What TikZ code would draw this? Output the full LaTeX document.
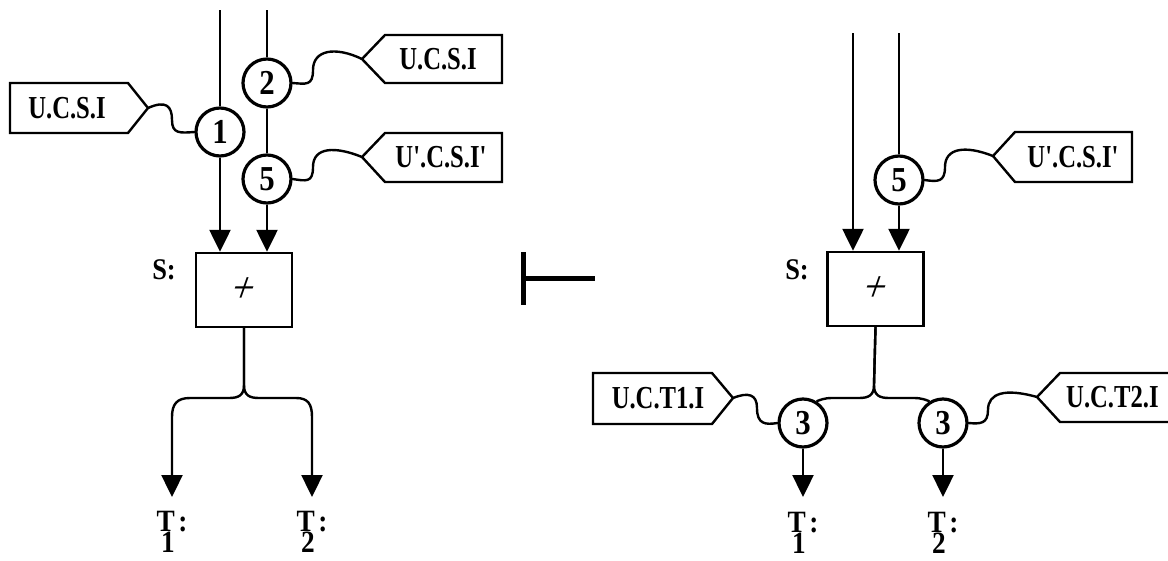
\documentclass[tikz,border=0pt]{standalone}
\usepackage{fontspec}
\setmainfont{Liberation Serif}[FakeStretch=0.88]
\newfontfamily\tagfont{Liberation Serif}[FakeStretch=0.77]
\usetikzlibrary{arrows.meta}
\begin{document}
\begin{tikzpicture}[x=1pt,y=-1pt,
  flow/.style={line width=2.4pt},
  arr/.style={flow,-{Triangle[length=22pt,width=21pt]}},
  wire/.style={line width=2.4pt,line cap=round},
  op/.style={circle,draw,line width=3.2pt,minimum size=48pt,inner sep=0pt,font=\bfseries\fontsize{35}{35}\selectfont},
  proc/.style={draw,line width=2.4pt,minimum width=96pt,minimum height=74pt,inner sep=0pt},
  plussign/.style={inner sep=0pt,xslant=0.35,font=\fontsize{44}{44}\selectfont},
  tagshape/.style={line width=2.4pt,line join=miter},
  tagtext/.style={font=\tagfont\bfseries\fontsize{32}{32}\selectfont,inner sep=0pt},
  lab/.style={font=\bfseries\fontsize{30}{30}\selectfont,inner sep=0pt},
  tlab/.style={font=\bfseries\fontsize{31}{31}\selectfont,inner sep=0pt,anchor=north},
  bar/.style={line width=5pt},
]
\useasboundingbox (0,0) rectangle (1168,560);

% ---------------- left diagram ----------------
\coordinate (a1) at (220,10);
\coordinate (a2) at (267,10);
\node[op] (c1) at (220,132) {1};
\node[op] (c2) at (267,83) {2};
\node[op] (c5) at (267,179) {5};
\node[proc] (s) at (244,290) {};
\node[plussign] (sp) at (s) {+};
\node[lab] (sl) at (164,270) {S:};

\draw[flow] (a1) -- (c1.north);
\draw[arr] (c1.south) -- (c1 |- s.north);
\draw[flow] (a2) -- (c2.north);
\draw[flow] (c2.south) -- (c5.north);
\draw[arr] (c5.south) -- (c5 |- s.north);

\coordinate (e1) at (172,497);
\coordinate (e2) at (312,497);
\draw[arr] (s.south) -- (244,385) .. controls (244,395) and (239,398) .. (229,398) -- (190,398) .. controls (177,398) and (172,404) .. (172,417) -- (e1);
\draw[arr] (s.south) -- (244,385) .. controls (244,395) and (249,398) .. (259,398) -- (296,398) .. controls (308,398) and (312,404) .. (312,417) -- (e2);
\node[tlab] (t1) at (172,511) {T\llap{\raisebox{-0.68em}{1}}\hspace{0.12em}:};
\node[tlab] (t2) at (312,511) {T\llap{\raisebox{-0.68em}{2}}\hspace{0.12em}:};

% tags, left diagram
\draw[tagshape] (10,83) -- (128,83) -- (148,108) -- (128,133) -- (10,133) -- cycle;
\coordinate (tA) at (148,108);
\node[tagtext] (gA) at (67,108) {U.C.S.I};

\draw[tagshape] (362,59) -- (385,35) -- (502,35) -- (502,83) -- (385,83) -- cycle;
\coordinate (tB) at (362,59);
\node[tagtext] (gB) at (438,59) {U.C.S.I};

\draw[tagshape] (362,157) -- (385,133) -- (502,133) -- (502,182) -- (385,182) -- cycle;
\coordinate (tC) at (362,157);
\node[tagtext] (gC) at (441,157) {U'.C.S.I'};

\draw[wire] (tA) .. controls (166,100) and (172,106) .. (172,120) .. controls (172,134) and (180,133) .. (c1.west);
\draw[wire] (c2.east) .. controls (306,84) and (313,86) .. (313,70) .. controls (313,50) and (335,46) .. (tB);
\draw[wire] (c5.east) .. controls (306,181) and (313,183) .. (313,167) .. controls (313,147) and (335,146) .. (tC);

% turnstile
\coordinate (ua) at (523,252);
\coordinate (ub) at (523,305);
\coordinate (uc) at (595,278);
\draw[bar] (ua) -- (ub);
\draw[bar] (ua |- uc) -- (uc);

% ---------------- right diagram ----------------
\coordinate (b1) at (853,33);
\coordinate (b2) at (899,33);
\node[op] (r5) at (899,180) {5};
\node[proc] (sr) at (875.5,289) {};
\node[plussign] (srp) at (sr) {+};
\node[lab] (srl) at (797,270) {S:};

\draw[arr] (b1) -- (b1 |- sr.north);
\draw[flow] (b2) -- (r5.north);
\draw[arr] (r5.south) -- (r5 |- sr.north);

\node[op] (c3a) at (803,423) {3};
\node[op] (c3b) at (943,423) {3};
\draw[flow] (sr.south) -- (874,385) .. controls (874,395) and (869,398) .. (859,398) -- (832,398) .. controls (824,398) and (820,400) .. (c3a.58);
\draw[flow] (sr.south) -- (874,385) .. controls (874,395) and (879,398) .. (889,398) -- (914,398) .. controls (922,398) and (926,400) .. (c3b.122);

\coordinate (e3) at (803,497);
\coordinate (e4) at (943,497);
\draw[arr] (c3a.south) -- (e3);
\draw[arr] (c3b.south) -- (e4);
\node[tlab] (t3) at (803,512) {T\llap{\raisebox{-0.68em}{1}}\hspace{0.12em}:};
\node[tlab] (t4) at (943,512) {T\llap{\raisebox{-0.68em}{2}}\hspace{0.12em}:};

% tags, right diagram
\draw[tagshape] (993,156) -- (1015,132) -- (1132,132) -- (1132,182) -- (1015,182) -- cycle;
\coordinate (tD) at (993,156);
\node[tagtext] (gD) at (1073,157) {U'.C.S.I'};

\draw[tagshape] (593,373) -- (712,373) -- (733,398) -- (712,424) -- (593,424) -- cycle;
\coordinate (tE) at (733,398);
\node[tagtext] (gE) at (658,398) {U.C.T1.I};

\draw[tagshape] (1037,397) -- (1060,373) -- (1190,373) -- (1190,422) -- (1060,422) -- cycle;
\coordinate (tF) at (1037,397);
\node[tagtext,anchor=west] (gF) at (1066,397) {U.C.T2.I};

\draw[wire] (r5.east) .. controls (938,182) and (945,182) .. (945,167) .. controls (945,148) and (965,145) .. (tD);
\draw[wire] (tE) .. controls (748,392) and (757,394) .. (757,408) .. controls (757,424) and (765,425) .. (c3a.west);
\draw[wire] (c3b.east) .. controls (980,424) and (988,424) .. (988,410) .. controls (988,393) and (1005,388) .. (tF);
\end{tikzpicture}
\end{document}
